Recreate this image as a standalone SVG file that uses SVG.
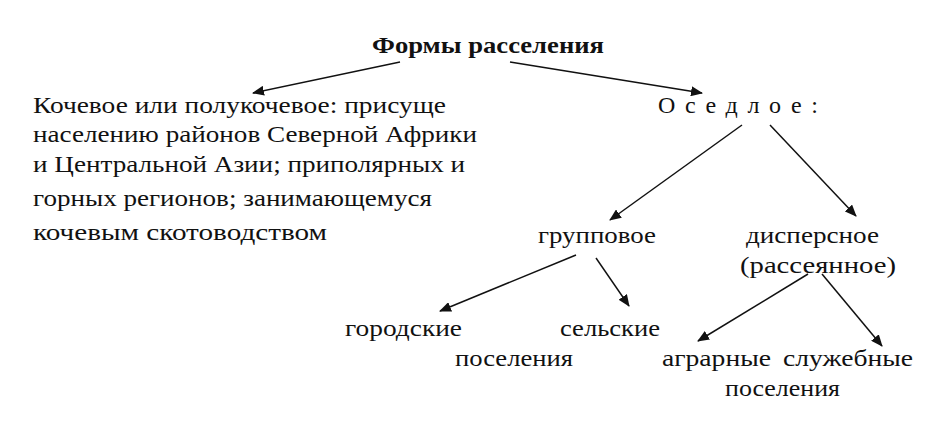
<svg xmlns="http://www.w3.org/2000/svg" width="942" height="426" viewBox="0 0 942 426">
<style>
text{font-family:"Liberation Serif","Times New Roman",serif;font-size:24px;fill:#111}
.b{font-weight:bold}
line{stroke:#111;stroke-width:1.5;marker-end:url(#a)}
</style>
<defs><marker id="a" markerWidth="12" markerHeight="10" refX="11" refY="5" orient="auto" markerUnits="userSpaceOnUse"><path d="M0,0 L12,5 L0,10 Z" fill="#111"/></marker></defs>
<rect width="942" height="426" fill="#fff"/>
<g id="connectors">
<line x1="400" y1="62" x2="253" y2="93"/>
<line x1="510" y1="62" x2="702" y2="93"/>
<line x1="742" y1="125" x2="610" y2="220"/>
<line x1="770" y1="125" x2="856" y2="216"/>
<line x1="576" y1="255" x2="440" y2="311"/>
<line x1="596" y1="258" x2="629" y2="306"/>
<line x1="808" y1="274" x2="698" y2="341"/>
<line x1="822" y1="274" x2="882" y2="346"/>
</g>
<g id="title"><text class="b" x="372" y="53" textLength="232" lengthAdjust="spacingAndGlyphs">Формы расселения</text></g>
<g id="nomad">
<text x="33" y="113" textLength="413" lengthAdjust="spacingAndGlyphs">Кочевое или полукочевое: присуще</text>
<text x="33" y="142" textLength="444" lengthAdjust="spacingAndGlyphs">населению районов Северной Африки</text>
<text x="33" y="172" textLength="432" lengthAdjust="spacingAndGlyphs">и Центральной Азии; приполярных и</text>
<text x="33" y="206" textLength="399" lengthAdjust="spacingAndGlyphs">горных регионов; занимающемуся</text>
<text x="33" y="240" textLength="294" lengthAdjust="spacingAndGlyphs">кочевым скотоводством</text>
</g>
<g id="settled"><text x="658" y="113" textLength="160" lengthAdjust="spacing">Оседлое:</text></g>
<g id="group"><text x="538" y="243" textLength="118" lengthAdjust="spacingAndGlyphs">групповое</text></g>
<g id="disperse"><text x="746" y="243" textLength="133" lengthAdjust="spacingAndGlyphs">дисперсное</text><text x="740" y="273" textLength="156" lengthAdjust="spacingAndGlyphs">(рассеянное)</text></g>
<g id="urban"><text x="345" y="336" textLength="117" lengthAdjust="spacingAndGlyphs">городские</text></g>
<g id="rural"><text x="560" y="336" textLength="100" lengthAdjust="spacingAndGlyphs">сельские</text><text x="455" y="366" textLength="118" lengthAdjust="spacingAndGlyphs">поселения</text></g>
<g id="agr"><text x="662" y="366" textLength="109" lengthAdjust="spacingAndGlyphs">аграрные</text></g>
<g id="serv"><text x="783" y="366" textLength="130" lengthAdjust="spacingAndGlyphs">служебные</text><text x="725" y="396" textLength="115" lengthAdjust="spacingAndGlyphs">поселения</text></g>
</svg>
